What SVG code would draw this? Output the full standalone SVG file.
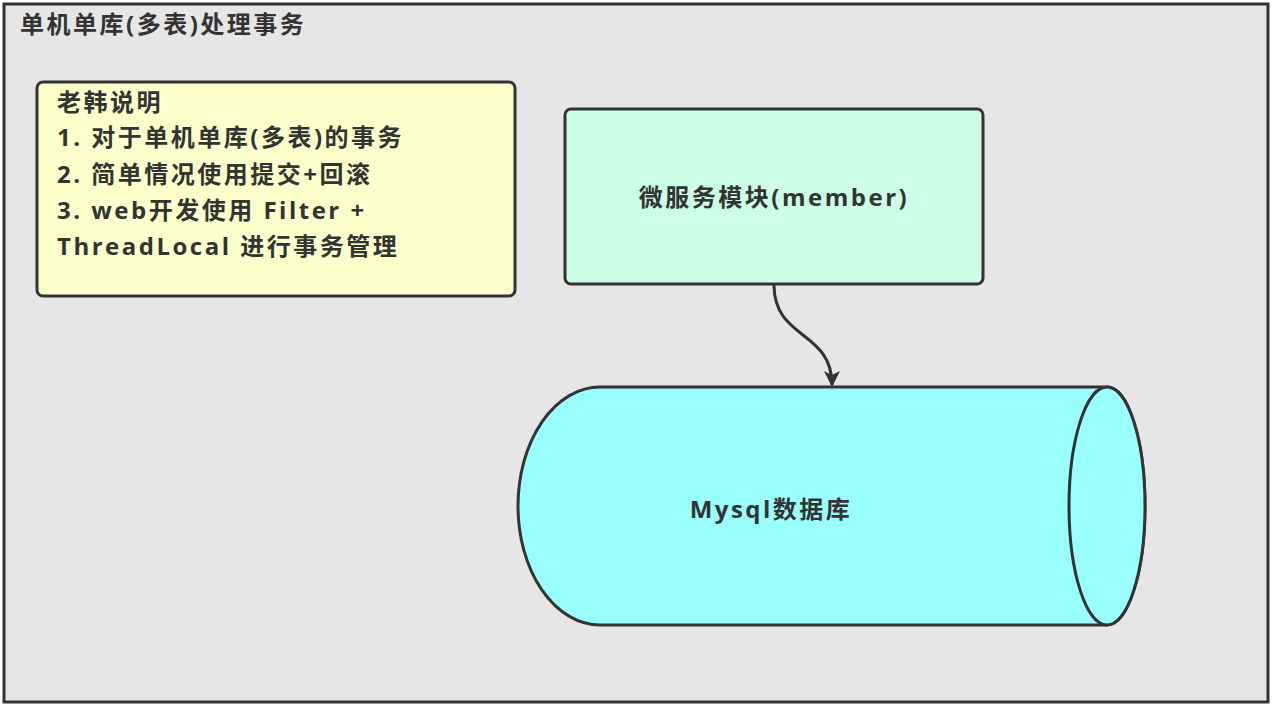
<svg xmlns="http://www.w3.org/2000/svg" width="1272" height="706" viewBox="0 0 1272 706">
<style>
text{font-family:"Open Sans","Noto Sans CJK SC",sans-serif;font-weight:bold;fill:#333;font-size:24px;letter-spacing:2.5px;}
.n{stroke:#333;stroke-width:3;}
</style>
<defs><marker id="a" markerWidth="16" markerHeight="20" refX="14" refY="8" orient="auto" markerUnits="userSpaceOnUse" viewBox="0 0 16 16"><path d="M0,0 L16,8 L0,16 L4,8 Z" fill="#333"/></marker></defs>
<g id="frame"><rect x="4" y="4" width="1264" height="698" fill="#e6e6e6" stroke="#333" stroke-width="3"/>
<text x="20" y="33">单机单库(多表)处理事务</text></g>
<g id="note"><rect class="n" x="37" y="82" width="478" height="214" rx="6" fill="#ffffcc"/>
<text><tspan x="57" y="111">老韩说明</tspan><tspan x="57" y="146">1. 对于单机单库(多表)的事务</tspan><tspan x="57" y="183">2. 简单情况使用提交+回滚</tspan><tspan x="57" y="219">3. web开发使用 Filter +</tspan><tspan x="57" y="255">ThreadLocal 进行事务管理</tspan></text></g>
<g id="member"><rect class="n" x="565" y="109" width="418" height="175" rx="6" fill="#ccffe6"/>
<text x="774" y="206" text-anchor="middle">微服务模块(member)</text></g>
<g id="mysql"><path class="n" d="M600,387 H1107 A38 119 0 0 1 1107 625 H600 A82 119 0 0 1 600 387 Z" fill="#99ffff"/>
<ellipse class="n" cx="1107" cy="506" rx="38" ry="119" fill="#99ffff"/>
<text x="771" y="518" text-anchor="middle">Mysql数据库</text></g>
<g id="connectors"><path d="M774,285 C774,340 832,330 832,385" fill="none" stroke="#333" stroke-width="3" marker-end="url(#a)"/></g>
</svg>
